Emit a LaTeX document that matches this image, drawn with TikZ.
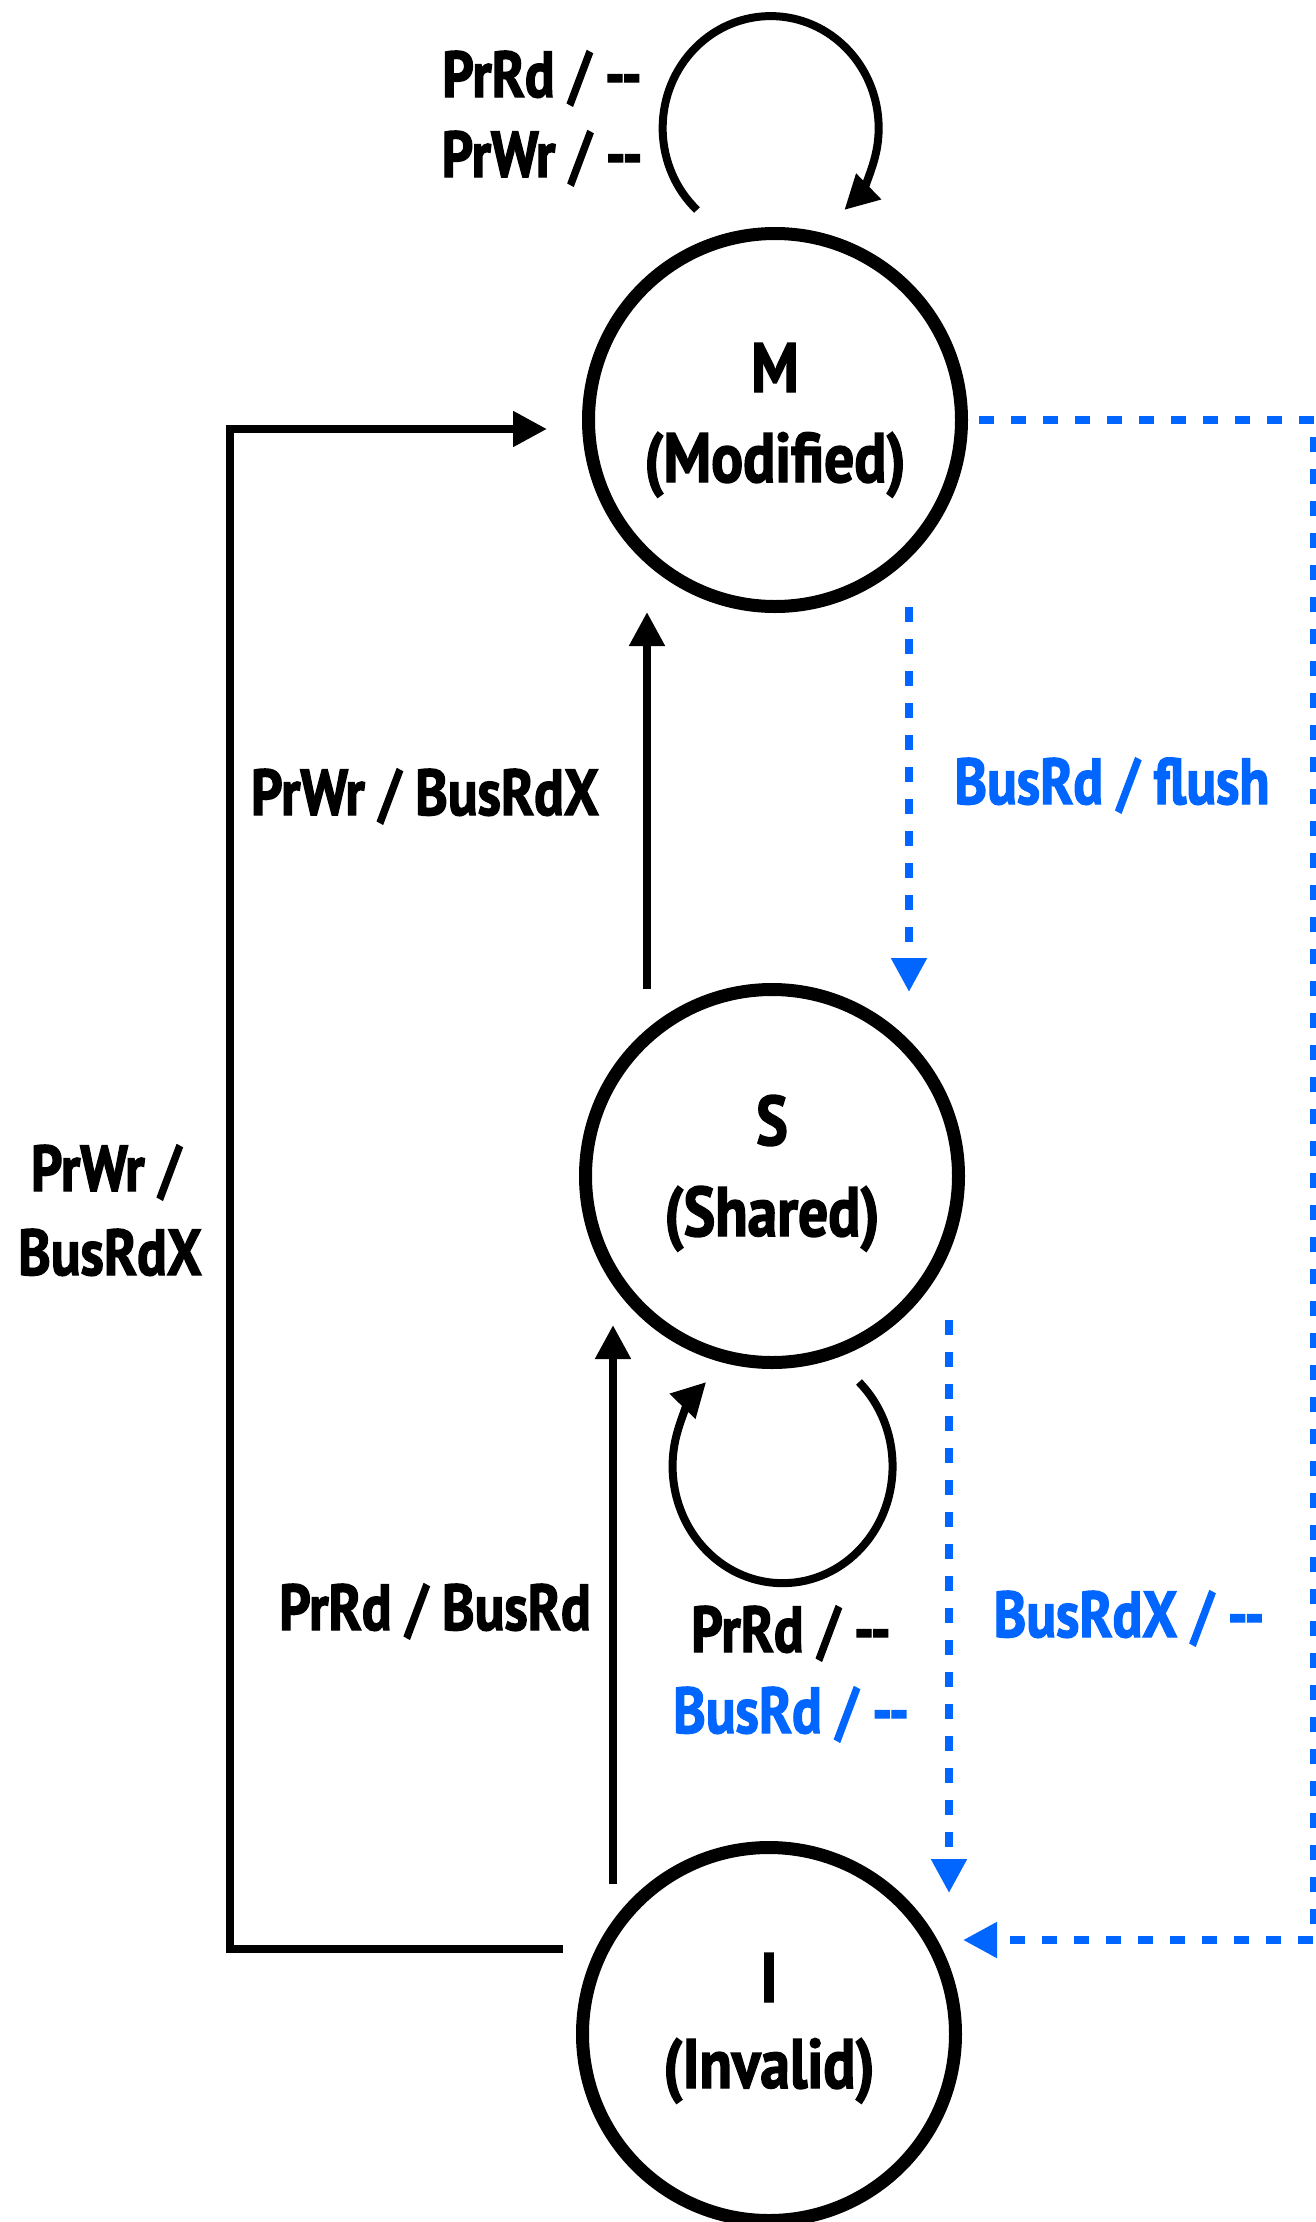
\documentclass[tikz,border=0pt]{standalone}
\usepackage{fontspec}
\setmainfont{PT Sans}[FakeStretch=0.85, FakeBold=2]
\usetikzlibrary{arrows.meta,calc}

\definecolor{snoop}{RGB}{0,102,255}
\newcommand\statefont{\bfseries\fontsize{70}{84}\selectfont}
\newcommand\lblfont{\bfseries\fontsize{65}{80}\selectfont}
\newcommand\nil{-{}-}

\tikzset{
  state/.style={circle, draw, line width=13pt, minimum size=373pt, inner sep=0pt},
  statetext/.style={anchor=base, inner sep=0pt, font=\statefont},
  lbl/.style={anchor=base, inner sep=0pt, font=\lblfont},
  snooplbl/.style={lbl, text=snoop},
  tip/.style={-{Triangle[length=34pt,width=34pt]}},
  edge/.style={tip, line width=8pt},
  snoopedge/.style={tip, line width=8pt, draw=snoop, dash pattern=on 15pt off 17pt},
}

\begin{document}
\begin{tikzpicture}[x=1pt, y=-1pt]
\useasboundingbox (0,0) rectangle (1316,2222);

% states of the MSI protocol
\node[state] (M) at (775,420) {};
\node[state] (S) at (772,1176) {};
\node[state] (I) at (769,2034) {};

\node[statetext] (Mtag)  at ($(M.center)+(0,-28)$) {M};
\node[statetext] (Mname) at ($(M.center)+(0,62)$)  {(Modified)};
\node[statetext] (Stag)  at ($(S.center)+(0,-31)$) {S};
\node[statetext] (Sname) at ($(S.center)+(0,60)$)  {(Shared)};
\node[statetext] (Itag)  at ($(I.center)+(0,-32)$) {I};
\node[statetext] (Iname) at ($(I.center)+(0,54)$)  {(Invalid)};

% processor-initiated transitions
\draw[edge] ($(M.center)+(-78,-210)$)
  arc[start angle=133, end angle=407, x radius=108, y radius=112];
\draw[edge] ($(S.center)+(87,206)$)
  arc[start angle=-46, end angle=226, x radius=110, y radius=117];
\draw[edge] ($(S.center)+(-125,-187)$) -- ($(M.center)+(-128,192)$);
\draw[edge] ($(I.center)+(-156,-150)$) -- ($(S.center)+(-159,149)$);
\draw[edge] ($(I.center)+(-206,-85)$) -| ($(M.center)+(-545,9)$) -- ($(M.center)+(-228,9)$);

% bus-snooped transitions
\draw[snoopedge] ($(M.center)+(134,187)$) -- ($(S.center)+(137,-184)$);
\draw[snoopedge] ($(S.center)+(177,144)$) -- ($(I.center)+(180,-141)$);
\draw[snoopedge] ($(M.center)+(204,0)$) -| ($(I.center)+(545,-94)$) -- ($(I.center)+(194,-94)$);

% transition labels
\node[lbl] (lmm1) at (542,97)   {PrRd / \nil};
\node[lbl] (lmm2) at (542,177)  {PrWr / \nil};
\node[lbl] (lsm)  at (425,815)  {PrWr / BusRdX};
\node[snooplbl] (lms) at (1112,804) {BusRd / flush};
\node[lbl] (lim1) at (106,1191) {PrWr /};
\node[lbl] (lim2) at (110,1275) {BusRdX};
\node[lbl] (lis)  at (435,1630) {PrRd / BusRd};
\node[lbl] (lss1) at (791,1652) {PrRd / \nil};
\node[snooplbl] (lss2) at (791,1733) {BusRd / \nil};
\node[snooplbl] (lsi)  at (1129,1637) {BusRdX / \nil};
\end{tikzpicture}
\end{document}
